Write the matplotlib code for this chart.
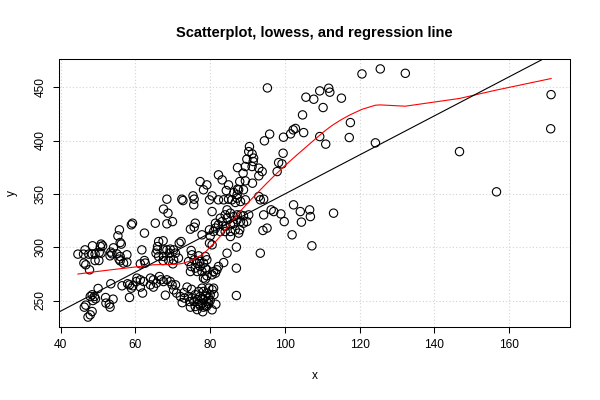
import numpy as np
import matplotlib
matplotlib.use("Agg")
import matplotlib.pyplot as plt

plt.rcParams['font.family'] = ['Liberation Sans', 'DejaVu Sans']

title = "Scatterplot, lowess, and regression line"
x_label = "x"
y_label = "y"
x_ticks = [40, 60, 80, 100, 120, 140, 160]
y_ticks = [250, 300, 350, 400, 450]

x_vals = [
    # left group
    55.7, 55.3, 55.9, 56.2, 48.5, 50.8, 50.6, 51.2, 54.1, 53.4, 53.2, 53.7, 55.0, 55.9, 55.6, 55.9,
    44.6, 46.1, 46.5, 47.5, 48.4, 49.2, 50.3, 50.8, 49.2, 50.2, 46.2, 46.7, 47.7, 53.4, 50.0, 48.4,
    49.0, 47.9, 49.3, 48.6, 52.0, 54.0, 52.1, 53.2, 53.0, 46.7, 46.3, 48.4, 47.9, 47.3, 56.4, 57.9, 58.4,
    # 56-80 upper
    68.7, 59.2, 58.9, 65.3, 68.4, 69.9, 76.0, 75.7, 74.7, 62.4,
    66.2, 67.4, 72.2, 71.7, 65.9, 65.8, 61.7, 67.5, 68.4, 69.3, 70.2, 69.1, 70.7, 74.9, 75.1, 76.9,
    57.7, 57.7, 56.8, 67.5, 67.4, 68.9, 70.2, 71.5, 70.0, 62.4, 61.3, 62.6, 65.5, 66.2, 74.2, 75.7,
    76.5, 74.9, 76.0, 77.3, 74.7, 76.5, 77.8, 77.2,
    # 56-80 lower band
    60.4, 61.3, 60.2, 62.2, 64.0, 64.8, 66.4, 66.8, 67.5, 68.4, 69.3, 69.8, 70.7, 70.2, 64.0, 64.8,
    65.6, 61.3, 61.9, 58.4, 58.9, 59.3, 68.0, 71.0,
    73.8, 72.0, 73.1, 74.2, 75.1, 75.6, 76.5, 77.3, 76.9, 76.0, 77.3, 74.7, 79.6,
    73.0, 74.5, 76.0, 77.0, 79.0, 80.0, 81.0, 76.5, 75.0, 72.5, 81.5, 78.0,
    # 77-100 middle
    80.5, 84.5, 85.4, 84.0, 82.7, 84.5, 83.2, 86.3, 87.2, 88.1, 88.9, 90.3, 94.3, 96.3, 97.0, 98.9,
    99.8, 87.2, 86.3, 85.4, 84.0, 82.2, 81.4, 81.4, 80.9, 82.7, 84.0, 85.4, 88.9, 88.1, 89.8, 87.9,
    86.7, 85.4, 87.6, 79.8, 77.8, 80.0, 80.5, 79.8, 84.5, 87.0, 94.1, 95.2, 93.4, 78.7, 79.1, 78.2,
    78.7, 79.1, 78.2, 78.7, 80.9, 81.8, 82.2, 83.6, 81.4, 80.5, 79.1, 87.0, 87.0,
    77.8, 79.6, 80.5, 80.9, 78.2, 79.1, 80.0, 78.7, 77.8, 79.6, 78.2, 79.1, 77.8, 78.7, 78.2, 80.5,
    # 77-100 upper
    95.9, 94.5, 99.6, 90.5, 90.3, 91.2, 91.6, 89.8, 91.5, 89.4, 87.3, 91.2, 93.0, 93.9, 88.8, 93.0,
    98.3, 99.2, 97.9, 99.5, 82.2, 83.2, 84.9, 87.9, 89.4, 91.3, 84.3, 87.6, 86.3, 87.3, 88.9, 77.3,
    79.1, 78.2, 79.8, 80.5, 82.2, 83.6, 84.9, 85.8, 87.2, 86.7, 88.1, 89.4, 93.0, 93.4, 94.3,
    87.2,
    68.4, 72.4, 72.7, 75.4, 75.7, 75.6, 67.5,
    # right part
    120.6, 111.7, 112.0, 109.3, 105.6, 107.7, 115.1, 110.2, 104.7, 117.5, 102.8, 102.2, 101.5, 105.0,
    109.3, 117.2, 110.9,
    102.3, 104.1, 106.6, 106.8, 104.4, 113.0, 101.9, 107.2,
    125.5, 132.2, 171.2, 171.1, 124.2, 146.7, 156.6, 95.3,
]
y_vals = [
    316.3, 310.6, 304.4, 302.9, 301.3, 302.9, 300.6, 301.3, 299.4, 295.4, 291.9, 293.8, 293.8, 291.3, 288.8, 287.2,
    293.5, 293.5, 297.5, 293.5, 293.5, 293.5, 295.0, 294.4, 287.5, 287.5, 285.1, 283.5, 278.8, 265.7, 261.3, 255.4,
    253.8, 253.8, 251.6, 250.0, 252.8, 251.3, 247.6, 243.8, 246.6, 245.7, 243.8, 239.7, 236.6, 234.5, 263.8, 265.7, 252.9,
    331.9, 322.5, 321.0, 322.5, 321.9, 324.0, 322.5, 318.8, 316.9, 313.2,
    305.3, 306.0, 305.3, 303.8, 300.6, 297.5, 297.5, 297.5, 297.5, 298.2, 297.5, 294.4, 294.4, 296.9, 292.9, 291.9,
    292.9, 286.0, 285.1, 291.3, 287.5, 287.5, 288.2, 289.8, 284.4, 287.5, 284.4, 285.1, 294.4, 291.3, 286.6, 288.2,
    285.1, 281.9, 280.4, 281.9, 277.2, 277.2, 277.2, 286.6,
    271.0, 269.4, 267.8, 267.8, 271.0, 269.4, 272.5, 269.4, 267.8, 269.4, 267.8, 264.7, 264.7, 260.0, 264.7, 262.6,
    266.3, 262.6, 257.0, 264.7, 261.6, 263.8, 255.0, 257.0,
    262.6, 253.8, 252.3, 253.8, 252.3, 249.1, 250.7, 253.8, 258.5, 244.4, 245.1, 243.8, 246.9,
    257.5, 249.0, 255.5, 247.0, 244.5, 250.0, 255.5, 241.5, 260.5, 248.0, 246.5, 239.5,
    333.4, 335.0, 331.9, 330.3, 327.2, 327.2, 324.0, 328.7, 330.3, 330.3, 329.4, 330.3, 330.3, 335.0, 333.4, 331.2,
    324.0, 325.6, 322.5, 321.0, 319.4, 321.0, 322.5, 317.9, 314.7, 314.7, 314.7, 314.7, 322.5, 324.0, 324.0, 316.3,
    316.3, 310.0, 313.2, 316.3, 311.6, 310.6, 302.2, 303.8, 294.4, 300.1, 315.7, 317.9, 294.4, 291.3, 288.2, 285.1,
    280.4, 278.8, 271.0, 270.1, 277.2, 278.8, 281.9, 285.6, 275.7, 274.1, 273.2, 280.4, 254.7,
    261.6, 261.6, 260.1, 261.6, 258.5, 257.0, 255.4, 253.8, 252.3, 252.3, 250.7, 249.1, 247.6, 245.1, 243.8, 241.3,
    406.0, 399.7, 403.1, 394.3, 389.6, 387.5, 383.5, 382.5, 380.3, 375.6, 374.6, 375.6, 374.1, 370.9, 369.4, 366.9,
    379.3, 378.1, 370.9, 388.1, 367.8, 363.1, 358.4, 361.5, 362.2, 360.0, 353.1, 353.8, 351.2, 354.4, 353.8, 361.5,
    358.4, 353.8, 344.4, 348.1, 344.4, 344.4, 345.0, 344.4, 346.0, 341.9, 342.8, 344.4, 347.5, 344.4, 345.0,
    349.1,
    345.0, 345.0, 343.7, 348.1, 345.0, 339.7, 335.7,
    462.4, 449.0, 445.3, 446.5, 440.6, 438.7, 439.7, 430.9, 424.0, 416.8, 411.3, 410.0, 406.2, 407.4,
    403.7, 402.8, 396.6,
    339.7, 333.4, 335.0, 328.7, 323.5, 331.9, 311.6, 301.3,
    467.1, 463.0, 443.0, 411.0, 397.8, 389.6, 351.9, 449.3,
]


def lowess(x, y, f=2.0 / 3.0, iters=3):
    order = np.argsort(x, kind="mergesort")
    xs = np.asarray(x, float)[order]
    ys = np.asarray(y, float)[order]
    n = len(xs)
    ns = max(min(int(f * n + 1e-7), n), 2)
    rw = np.ones(n)
    fit = np.zeros(n)
    xr = xs[-1] - xs[0]
    for it in range(iters + 1):
        for i in range(n):
            d = np.abs(xs - xs[i])
            h = np.sort(d)[ns - 1]
            w = np.zeros(n)
            if h > 0:
                r = d / h
                inside = r <= 0.999
                w[inside] = (1 - r[inside] ** 3) ** 3
                w[d <= 0.001 * h] = 1.0
            else:
                w[d == 0] = 1.0
            w *= rw
            sw = w.sum()
            if sw <= 0:
                fit[i] = ys[i]
                continue
            w = w / sw
            a = np.sum(w * xs)
            c = np.sum(w * (xs - a) ** 2)
            if np.sqrt(c) > 0.001 * xr:
                b = np.sum(w * (xs - a) * ys) / c
                fit[i] = np.sum(w * ys) + b * (xs[i] - a)
            else:
                fit[i] = np.sum(w * ys)
        if it == iters:
            break
        res = ys - fit
        cmad = 6 * np.median(np.abs(res))
        if cmad == 0:
            break
        u = np.abs(res) / cmad
        rw = np.where(u < 1, (1 - u ** 2) ** 2, 0.0)
    return xs, fit


x = np.array(x_vals)
y = np.array(y_vals)

fig = plt.figure(figsize=(6, 4), dpi=100)
ax = fig.add_axes([59 / 600, 73 / 400, 511 / 600, 268 / 400])

rx = x.max() - x.min()
ry = y.max() - y.min()
ax.set_xlim(x.min() - 0.04 * rx, x.max() + 0.04 * rx)
ax.set_ylim(y.min() - 0.04 * ry, y.max() + 0.04 * ry)

ax.set_xticks(x_ticks)
ax.set_yticks(y_ticks)
ax.grid(True, color='#D3D3D3', linestyle=(0, (1, 2)), linewidth=0.8)
ax.set_axisbelow(True)

ax.scatter(x, y, s=36, facecolors='none', edgecolors='black', linewidths=0.8, zorder=3)

lx, ly = lowess(x, y)
ax.plot(lx, ly, color='red', linewidth=0.8, zorder=4)

b, a = np.polyfit(x, y, 1)
xl = np.array(ax.get_xlim())
ax.plot(xl, a + b * xl, color='black', linewidth=0.8, zorder=4)
ax.set_xlim(xl)

for s in ax.spines.values():
    s.set_color('black')
    s.set_linewidth(0.75)
ax.tick_params(direction='out', length=4, width=0.75, labelsize=8.6, pad=5, colors='black')
for t in ax.get_yticklabels():
    t.set_rotation(90)
    t.set_verticalalignment('center')

fig.text(0.524, 1 - 33 / 400, title, ha='center', va='center', fontsize=10.5, fontweight='bold')
fig.text(0.524, 1 - 376 / 400, x_label, ha='center', va='center', fontsize=8.6)
fig.text(12 / 600, 1 - 193 / 400, y_label, ha='center', va='center', fontsize=8.6, rotation=90)

fig.savefig('out.png', dpi=100)
